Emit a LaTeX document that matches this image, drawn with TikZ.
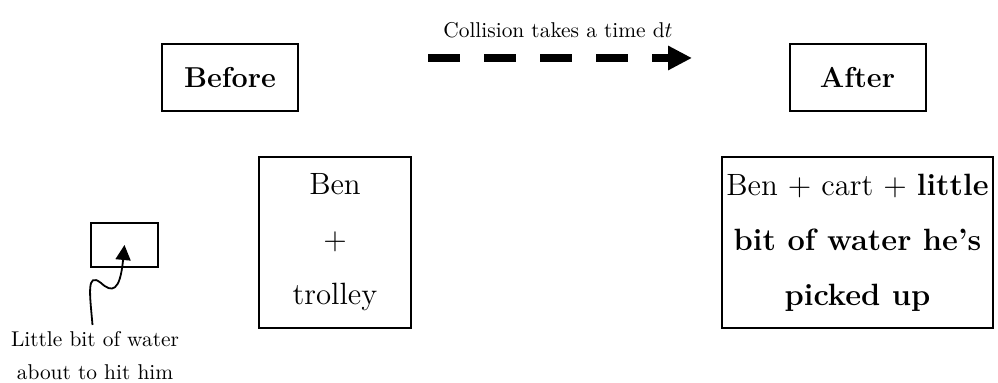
\documentclass[tikz,border=0pt]{standalone}
\usetikzlibrary{arrows.meta}
% 12pt design-size Latin Modern, enlarged for the two system boxes
\font\sysrm="[lmroman12-regular]:+tlig;" at 15.4pt
\font\sysbf="[lmroman12-bold]:+tlig;" at 15.4pt
\begin{document}
\begin{tikzpicture}[x=0.5pt,y=-0.5pt,
  titlebox/.style={draw,line width=1pt,inner sep=0pt,font=\Large\bfseries,minimum width=68pt,minimum height=33.5pt},
  bigbox/.style={draw,line width=1pt,inner sep=0pt,align=center,minimum height=85.5pt,
    font=\fontsize{15.4}{27.5}\selectfont\sysrm},
  smalltext/.style={inner sep=0pt,align=center,font=\fontsize{10.7}{16.5}\selectfont},
  timearrow/.style={line width=4pt,dash pattern=on 16pt off 12pt,-{Triangle[length=12pt,width=11.5pt]}},
  wavyarrow/.style={line width=0.9pt,-{Triangle[length=7.5pt,width=7.5pt]}}
]
\useasboundingbox (0,0) rectangle (998,383);

% headings
\node[titlebox] (before) at (230,77.5) {Before};
\node[titlebox] (after) at (857.5,77.5) {After};

% time arrow between the two states
\coordinate (tstart) at (428,58);
\coordinate (tend) at (692,58);
\draw[timearrow] (tstart) -- (tend);
\node[smalltext] (tlabel) at (558,30) {Collision takes a time d$t$};

% system before and after
\node[bigbox,minimum width=76pt] (ben) at (335,242.5) {Ben\\+\\trolley};
\node[bigbox,minimum width=135.5pt] (benafter) at (857.5,242.5)
  {Ben + cart + {\sysbf little}\\{\sysbf bit of water he’s}\\{\sysbf picked up}};

% the small parcel of water
\node[draw,line width=1.4pt,inner sep=0pt,minimum width=33.5pt,minimum height=22pt] (water) at (124.5,245) {};
\coordinate (wstart) at (92.5,325);
\draw[wavyarrow] (wstart) .. controls (90,295) and (86,271) .. (101,283)
  .. controls (112,293) and (120,292) .. (water.center);
\node[smalltext] (wlabel) at (95,356) {Little bit of water\\about to hit him};
\end{tikzpicture}
\end{document}
